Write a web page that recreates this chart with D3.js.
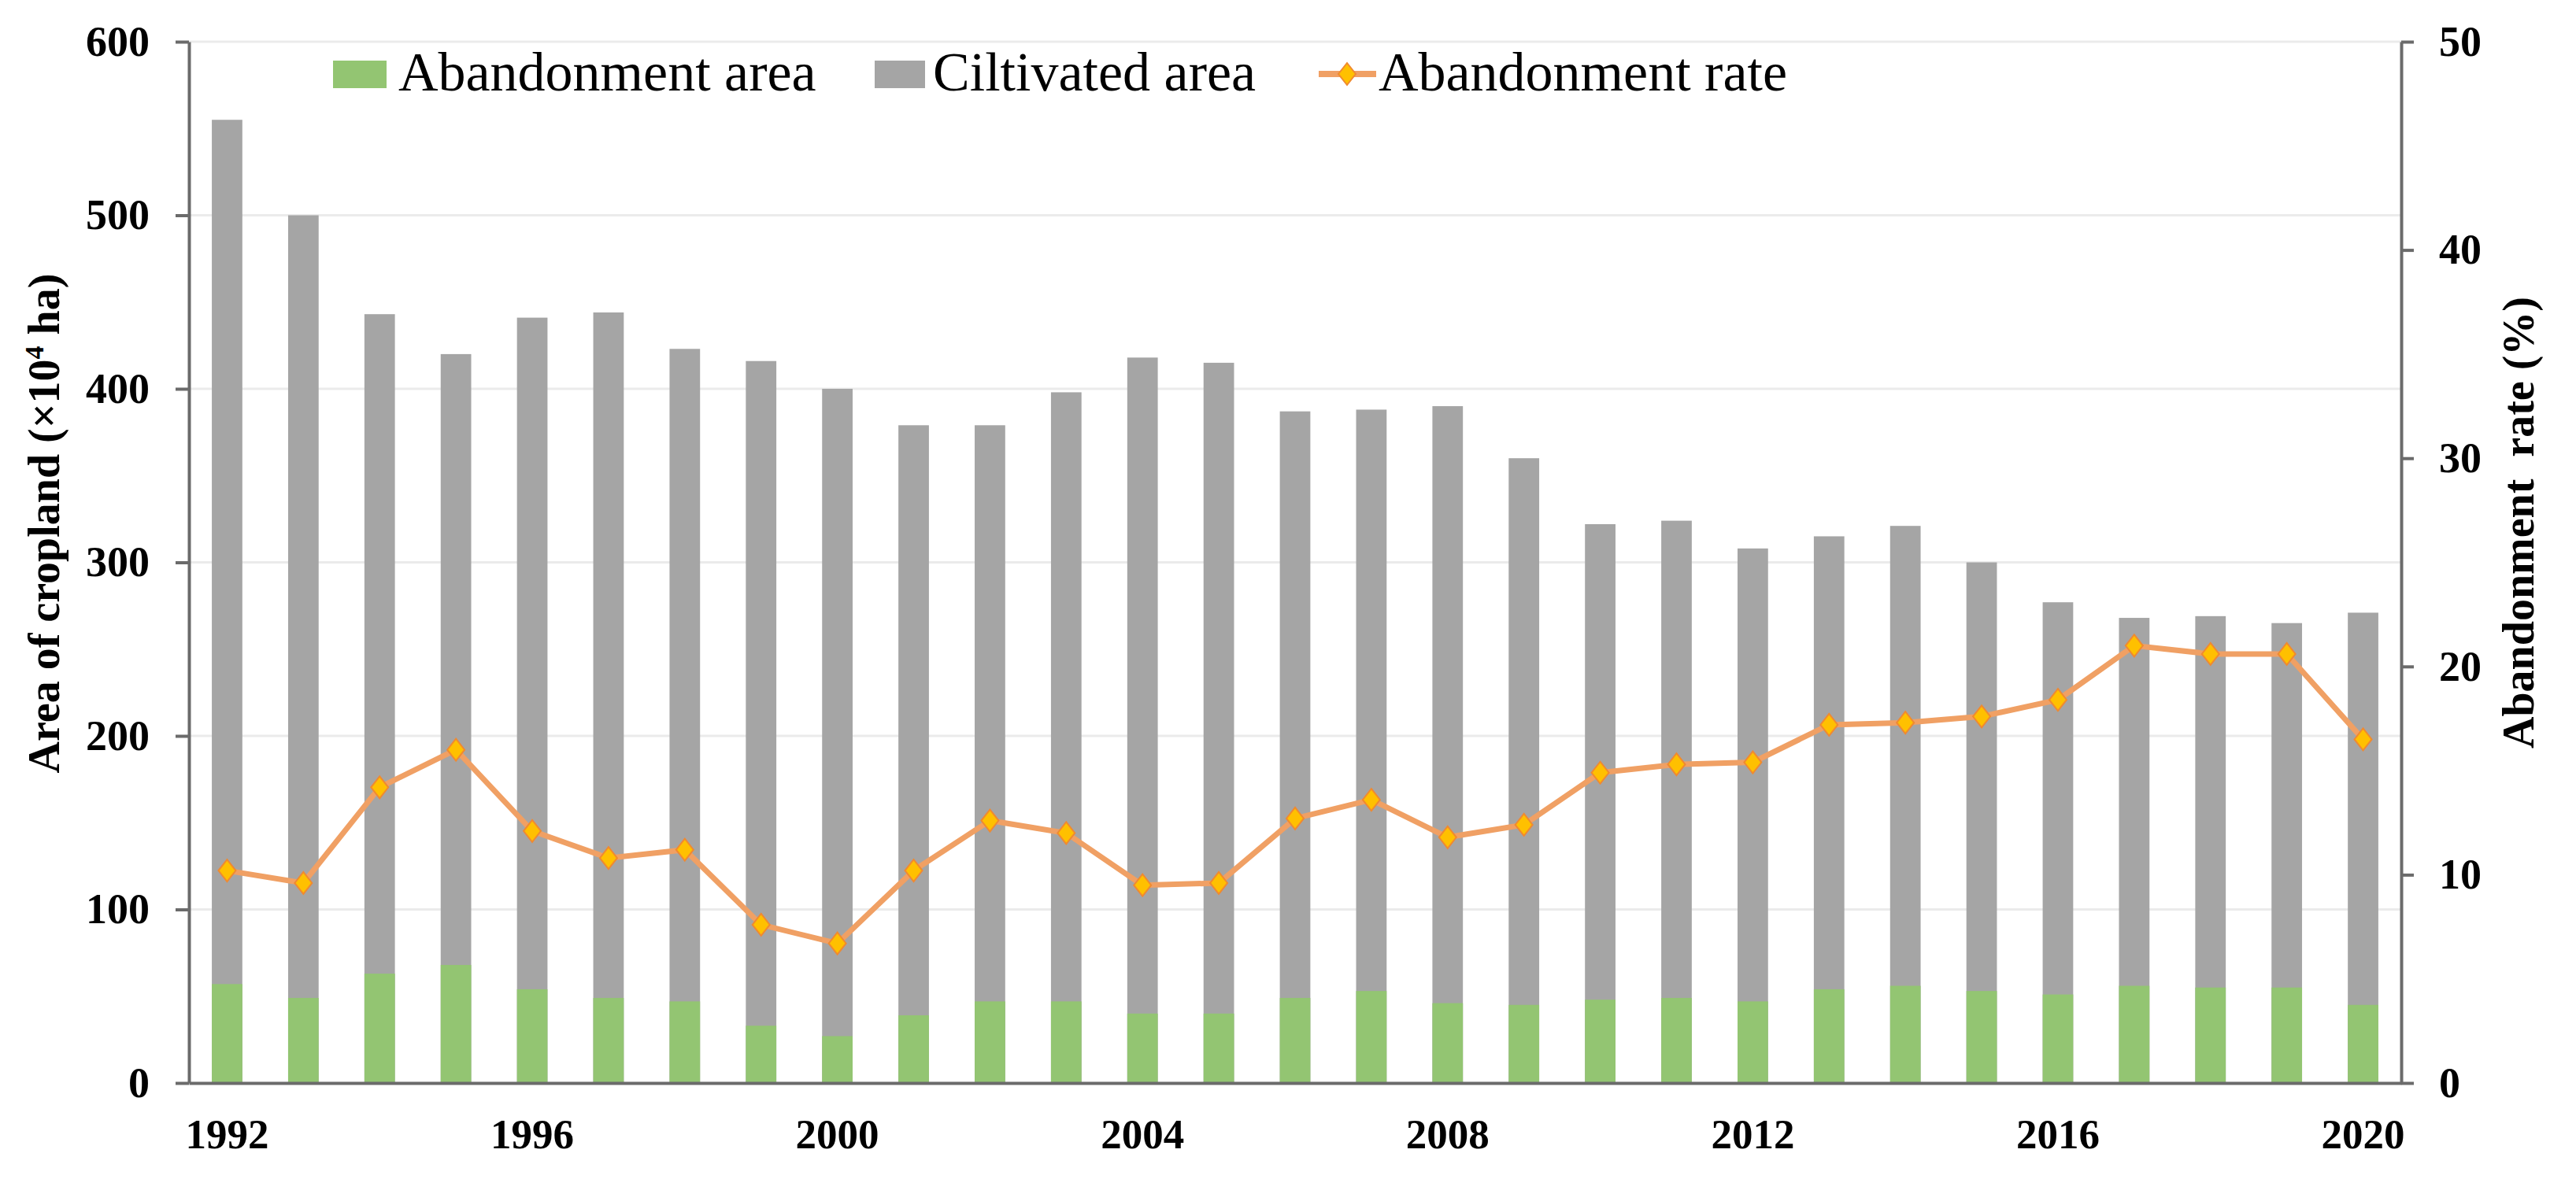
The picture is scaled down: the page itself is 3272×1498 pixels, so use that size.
<!DOCTYPE html>
<html>
<head>
<meta charset="utf-8">
<script src="https://cdn.jsdelivr.net/npm/d3@7"></script>
<style>
  body { margin: 0; background: #fff; }
  svg text { font-family: "Liberation Serif", "Times New Roman", serif; }
</style>
</head>
<body>
<div id="chart"></div>
<script>
// values
var years = [1992, 1993, 1994, 1995, 1996, 1997, 1998, 1999, 2000, 2001, 2002, 2003, 2004, 2005, 2006,
    2007, 2008, 2009, 2010, 2011, 2012, 2013, 2014, 2015, 2016, 2017, 2018, 2019, 2020];
var cultivated = [555, 500, 443, 420, 441, 444, 423, 416, 400, 379, 379, 398, 418, 415, 387,
    388, 390, 360, 322, 324, 308, 315, 321, 300, 277, 268, 269, 265, 271];
var abandoned = [57, 49, 63, 68, 54, 49, 47, 33, 27, 39, 47, 47, 40, 40, 49,
    53, 46, 45, 48, 49, 47, 54, 56, 53, 51, 56, 55, 55, 45];
var rate = [10.2, 9.6, 14.2, 16.0, 12.1, 10.8, 11.2, 7.6, 6.7, 10.2, 12.6, 12.0, 9.5, 9.6, 12.7,
    13.6, 11.8, 12.4, 14.9, 15.3, 15.4, 17.2, 17.3, 17.6, 18.4, 21.0, 20.6, 20.6, 16.5];
var leftTicks = [0, 100, 200, 300, 400, 500, 600];
var rightTicks = [0, 10, 20, 30, 40, 50];
var yearLabels = [1992, 1996, 2000, 2004, 2008, 2012, 2016, 2020];

var width = 3272, height = 1498;
var plotLeft = 240, plotRight = 3050, plotTop = 53, plotBottom = 1376;

var svg = d3.select("#chart").append("svg")
    .attr("width", width)
    .attr("height", height);

var x = d3.scaleBand().domain(years).range([plotLeft, plotRight]).paddingInner(0.6).paddingOuter(0.3);
var yL = d3.scaleLinear().domain([0, 600]).range([plotBottom, plotTop]);
var yR = d3.scaleLinear().domain([0, 50]).range([plotBottom, plotTop]);

// gridlines
svg.append("g")
    .selectAll("line")
    .data(leftTicks.slice(1))
    .join("line")
    .attr("x1", plotLeft)
    .attr("x2", plotRight)
    .attr("y1", d => yL(d))
    .attr("y2", d => yL(d))
    .attr("stroke", "#ebebeb")
    .attr("stroke-width", 3);

// cultivated bars (full height), abandonment drawn over them
svg.append("g")
    .selectAll("rect")
    .data(years)
    .join("rect")
    .attr("x", d => x(d))
    .attr("width", x.bandwidth())
    .attr("y", (d, i) => yL(cultivated[i]))
    .attr("height", (d, i) => yL(0) - yL(cultivated[i]))
    .attr("fill", "#a5a5a5");

svg.append("g")
    .selectAll("rect")
    .data(years)
    .join("rect")
    .attr("x", d => x(d))
    .attr("width", x.bandwidth())
    .attr("y", (d, i) => yL(abandoned[i]))
    .attr("height", (d, i) => yL(0) - yL(abandoned[i]))
    .attr("fill", "#93c572");

// axes
function styleAxis(g, size) {
    g.selectAll("path.domain").attr("stroke", "#6b6b6b").attr("stroke-width", 4);
    g.selectAll(".tick line").attr("stroke", "#6b6b6b").attr("stroke-width", 4);
    g.selectAll("text")
        .attr("fill", "#000")
        .style("font-size", size + "px")
        .style("font-weight", "bold")
        .style("font-family", '"Liberation Serif", "Times New Roman", serif');
}

svg.append("g")
    .attr("transform", "translate(" + plotLeft + ",0)")
    .call(d3.axisLeft(yL).tickValues(leftTicks).tickSize(17).tickSizeOuter(0).tickPadding(33))
    .call(g => styleAxis(g, 54));

svg.append("g")
    .attr("transform", "translate(" + plotRight + ",0)")
    .call(d3.axisRight(yR).tickValues(rightTicks).tickSize(16).tickSizeOuter(0).tickPadding(32))
    .call(g => styleAxis(g, 54))
    .selectAll("text").attr("text-anchor", "start");

svg.append("g")
    .attr("transform", "translate(0," + plotBottom + ")")
    .call(d3.axisBottom(x).tickValues(yearLabels).tickSize(0).tickSizeOuter(0).tickPadding(45))
    .call(g => styleAxis(g, 53));

// rate line
var line = d3.line()
    .x((d, i) => x(years[i]) + x.bandwidth() / 2)
    .y(d => yR(d));

svg.append("path")
    .datum(rate)
    .attr("d", line)
    .attr("fill", "none")
    .attr("stroke", "#f0a064")
    .attr("stroke-width", 7);

var diamond = "M0,-14L11,0L0,14L-11,0Z";

svg.append("g")
    .selectAll("path")
    .data(rate)
    .join("path")
    .attr("d", diamond)
    .attr("transform", (d, i) => "translate(" + (x(years[i]) + x.bandwidth() / 2) + "," + yR(d) + ")")
    .attr("fill", "#ffc000")
    .attr("stroke", "#f08a30")
    .attr("stroke-width", 2);

// axis titles
svg.append("text")
    .attr("transform", "translate(75,665) rotate(-90)")
    .attr("text-anchor", "middle")
    .style("font-size", "56px")
    .style("font-weight", "bold")
    .text("Area of cropland (×10")
    .call(t => t.append("tspan").attr("dy", -20).style("font-size", "34px").text("4"))
    .call(t => t.append("tspan").attr("dy", 20).text(" ha)"));

svg.append("text")
    .attr("transform", "translate(3218,664) rotate(-90)")
    .attr("text-anchor", "middle")
    .style("font-size", "56px")
    .style("font-weight", "bold")
    .style("white-space", "pre")
    .text("Abandonment  rate (%)");

// legend
var legend = svg.append("g").style("font-size", "70px");

legend.append("rect").attr("x", 423).attr("y", 77).attr("width", 68).attr("height", 35).attr("fill", "#93c572");
legend.append("text").attr("x", 506).attr("y", 115).text("Abandonment area");

legend.append("rect").attr("x", 1111).attr("y", 77).attr("width", 64).attr("height", 35).attr("fill", "#a5a5a5");
legend.append("text").attr("x", 1185).attr("y", 115).text("Ciltivated area");

legend.append("line").attr("x1", 1675).attr("x2", 1748).attr("y1", 94).attr("y2", 94)
    .attr("stroke", "#f0a064").attr("stroke-width", 8);
legend.append("path").attr("d", diamond).attr("transform", "translate(1711,94)")
    .attr("fill", "#ffc000").attr("stroke", "#f08a30").attr("stroke-width", 2);
legend.append("text").attr("x", 1751).attr("y", 115).text("Abandonment rate");
</script>
</body>
</html>
